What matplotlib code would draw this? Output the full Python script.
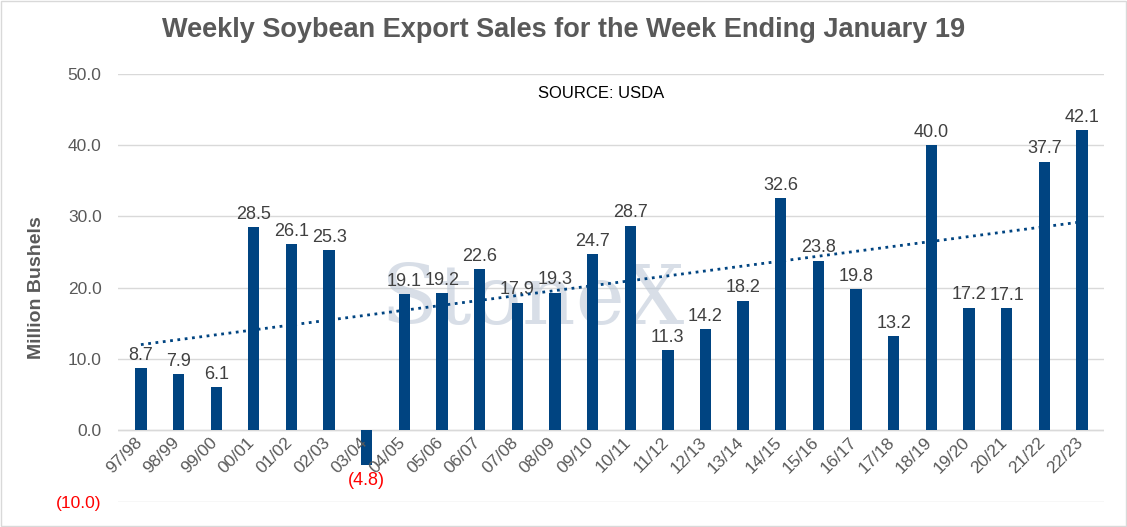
import numpy as np
import matplotlib.pyplot as plt

plt.rcParams['font.family'] = ['Liberation Sans', 'DejaVu Sans']

years = ['97/98', '98/99', '99/00', '00/01', '01/02', '02/03', '03/04', '04/05', '05/06',
         '06/07', '07/08', '08/09', '09/10', '10/11', '11/12', '12/13', '13/14', '14/15',
         '15/16', '16/17', '17/18', '18/19', '19/20', '20/21', '21/22', '22/23']
sales = [8.7, 7.9, 6.1, 28.5, 26.1, 25.3, -4.8, 19.1, 19.2, 22.6, 17.9, 19.3, 24.7, 28.7,
         11.3, 14.2, 18.2, 32.6, 23.8, 19.8, 13.2, 40.0, 17.2, 17.1, 37.7, 42.1]

blue = '#004481'
fig = plt.figure(figsize=(11.27, 5.27), dpi=100)
ax = fig.add_axes([0.105, 0.048, 0.875, 0.812])
x = np.arange(len(years))
ax.bar(x, sales, width=0.3, color=blue, zorder=3)

# linear trendline
k, b = np.polyfit(x, sales, 1)
ax.plot([x[0], x[-1]], [k * x[0] + b, k * x[-1] + b], ':', color=blue, lw=2, zorder=4)

for xi, v in zip(x, sales):
    if v < 0:
        ax.text(xi, v - 1.0, '(%.1f)' % abs(v), ha='center', va='top', color='red', fontsize=13)
    else:
        ax.text(xi, v + 0.6, '%.1f' % v, ha='center', va='bottom', color='#404040', fontsize=13)

ax.set_xlim(-0.6, len(years) - 0.4)
ax.set_ylim(-10, 50)
ticks = np.arange(-10, 51, 10)
ax.set_yticks(ticks)
ax.set_yticklabels(['(%.1f)' % abs(t) if t < 0 else '%.1f' % t for t in ticks], fontsize=12.5, color='#595959')
ax.get_yticklabels()[0].set_color('red')
ax.tick_params(axis='y', length=0, pad=12)
ax.grid(axis='y', color='#d9d9d9', lw=1, zorder=0)
for s in ax.spines.values():
    s.set_visible(False)

ax.axhline(0, color='#d9d9d9', lw=1, zorder=1)
ax.set_xticks([])
for xi, lab in zip(x, years):
    ax.text(xi + 0.1, -0.6, lab, rotation=45, ha='right', va='top', fontsize=12.5, color='#595959')

ax.set_ylabel('Million Bushels', fontsize=14, fontweight='bold', color='#595959', labelpad=8)
fig.text(0.5, 0.93, 'Weekly Soybean Export Sales for the Week Ending January 19', ha='center',
         fontsize=19.5, fontweight='bold', color='#595959')
ax.text(0.49, 0.955, 'SOURCE: USDA', transform=ax.transAxes, ha='center', va='center', fontsize=12)
ax.text(0.42, 0.47, 'StoneX', transform=ax.transAxes, ha='center', va='center', fontsize=60,
        family='serif', color='#b8c4d4', alpha=0.55, zorder=2)
fig.patches.append(plt.Rectangle((0.001, 0.002), 0.998, 0.996, transform=fig.transFigure,
                                 fill=False, edgecolor='#d9d9d9', lw=1))
fig.savefig('out.png', dpi=100)
